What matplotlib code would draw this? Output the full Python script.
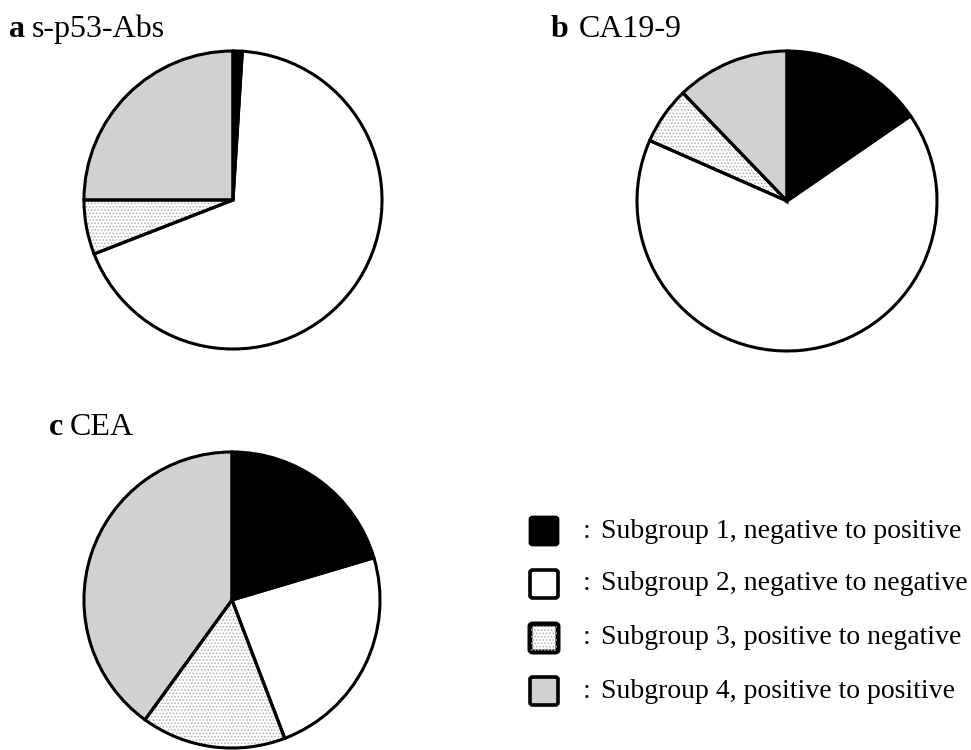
import matplotlib
matplotlib.use("Agg")
import matplotlib.pyplot as plt
from matplotlib.patches import FancyBboxPatch

# parts de chaque sous-groupe (%), dans l'ordre 1..4
p53 = [1.0, 68.1, 5.9, 25.0]
ca199 = [15.4, 66.2, 6.2, 12.2]
cea = [20.4, 23.8, 15.8, 40.0]

letters = ["a", "b", "c"]
titles = ["s-p53-Abs", "CA19-9", "CEA"]
legend_labels = [
    "Subgroup 1, negative to positive",
    "Subgroup 2, negative to negative",
    "Subgroup 3, positive to negative",
    "Subgroup 4, positive to positive",
]

W, H = 971, 750
fills = ["black", "white", "white", "#d0d2d2"]
hatches = [None, None, ".....", None]
serif = ["Liberation Serif", "DejaVu Serif"]

plt.rcParams["hatch.linewidth"] = 0.8

fig = plt.figure(figsize=(W / 100, H / 100), dpi=100)


def px_axes(cx, cy, r):
    # axes carré centré sur (cx, cy) en pixels depuis le haut
    return fig.add_axes([(cx - r) / W, (H - cy - r) / H, 2 * r / W, 2 * r / H])


def camembert(ax, vals):
    # remplissage (avec points gris pour le groupe 3)
    wedges, _ = ax.pie(vals, startangle=90, counterclock=False, radius=1,
                       colors=fills, wedgeprops=dict(linewidth=0))
    for w, h in zip(wedges, hatches):
        if h:
            w.set_hatch(h)
            w.set_edgecolor("#b4b4b4")
    # contours noirs
    ax.pie(vals, startangle=90, counterclock=False, radius=1,
           colors=["none"] * 4,
           wedgeprops=dict(linewidth=2.2, edgecolor="black", fill=False))
    ax.set_xlim(-1.02, 1.02)
    ax.set_ylim(-1.02, 1.02)
    ax.set_aspect("equal")
    ax.axis("off")


centres = [(233, 200, 152), (787, 201, 153), (232, 600, 151)]
for (cx, cy, r), vals in zip(centres, [p53, ca199, cea]):
    camembert(px_axes(cx, cy, r), vals)

# titres des panneaux
title_pos = [(9, 32, 37), (551, 579, 37), (49, 70, 435)]
for (xl, xt, yb), let, tit in zip(title_pos, letters, titles):
    fig.text(xl / W, 1 - yb / H, let, fontsize=23, fontweight="bold",
             family=serif, va="baseline")
    fig.text(xt / W, 1 - yb / H, tit, fontsize=23, family=serif, va="baseline")

# légende faite à la main
rows = [531, 584, 638, 691]
lws = [2.0, 2.6, 3.6, 2.6]
for i, lab in enumerate(legend_labels):
    y = rows[i]
    box = FancyBboxPatch((530 / W, 1 - (y + 14) / H), 28 / W, 28 / H,
                         boxstyle="round,pad=0,rounding_size=0.003",
                         transform=fig.transFigure, facecolor=fills[i],
                         edgecolor="black", linewidth=lws[i])
    fig.patches.append(box)
    if hatches[i]:
        hb = FancyBboxPatch((531 / W, 1 - (y + 13) / H), 26 / W, 26 / H,
                            boxstyle="square,pad=0",
                            transform=fig.transFigure, facecolor="none",
                            edgecolor="#b4b4b4", hatch=hatches[i], linewidth=0)
        fig.patches.append(hb)
    fig.text(583 / W, 1 - y / H, ":", fontsize=20, family=serif, va="center")
    fig.text(601 / W, 1 - y / H, lab, fontsize=20, family=serif, va="center")

fig.savefig("out.png", dpi=100)
